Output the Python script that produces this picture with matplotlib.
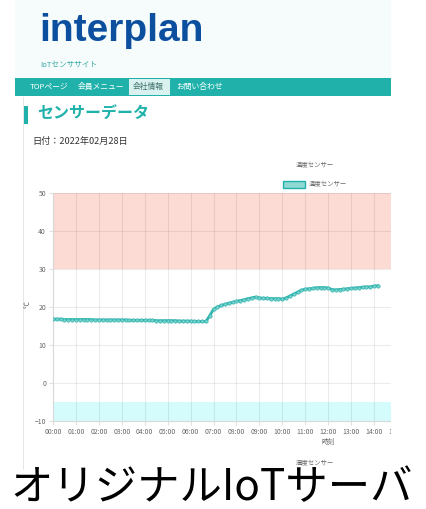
import pandas as pd
import matplotlib.pyplot as plt
import matplotlib.dates as mdates
from matplotlib.patches import Rectangle

plt.rcParams['font.family'] = ['Noto Sans CJK JP', 'DejaVu Sans']

W, H = 426, 509

# temperature readings every 10 minutes, 2022-02-28 00:00 - 14:10
temps = [
    16.8, 16.8, 16.8, 16.7, 16.7, 16.7,
    16.7, 16.7, 16.7, 16.7, 16.7, 16.6,
    16.6, 16.6, 16.6, 16.6, 16.6, 16.6,
    16.6, 16.6, 16.5, 16.5, 16.5, 16.5,
    16.5, 16.5, 16.5, 16.4, 16.4, 16.4,
    16.4, 16.4, 16.4, 16.3, 16.3, 16.3,
    16.3, 16.2, 16.2, 16.2, 16.2, 17.7,
    19.4, 20.0, 20.4, 20.7, 21.0, 21.2,
    21.5, 21.7, 21.9, 22.2, 22.4, 22.6,
    22.4, 22.3, 22.3, 22.2, 22.2, 22.2,
    22.1, 22.4, 22.9, 23.4, 23.9, 24.4,
    24.7, 24.8, 24.9, 25.1, 25.1, 25.1,
    25.0, 24.6, 24.5, 24.6, 24.7, 24.8,
    24.9, 25.0, 25.1, 25.2, 25.3, 25.3,
    25.5, 25.6,
]
times = pd.date_range('2022-02-28 00:00', periods=len(temps), freq='10min')
hour_ticks = pd.date_range('2022-02-28 00:00', periods=16, freq='h')

nav_items = ['TOPページ', '会員メニュー', '会社情報', 'お問い合わせ']
nav_x = [30, 78, 133, 176]
y_ticks = [-10, 0, 10, 20, 30, 40, 50]
warn_high = (30, 50)
warn_low = (-10, -5)

teal = '#20b2aa'


def fx(x):
    return x / W


def fy(y):
    return 1 - y / H


def rect(fig, x0, y0, x1, y1, color, z=0, **kw):
    fig.patches.append(Rectangle((fx(x0), fy(y1)), fx(x1) - fx(x0), fy(y0) - fy(y1),
                                 transform=fig.transFigure, facecolor=color,
                                 zorder=z, **kw))


fig = plt.figure(figsize=(W / 100, H / 100), dpi=100)

# page header
rect(fig, 15, 0, 391, 78, '#f5fcfb', z=-1, linewidth=0)
fig.text(fx(39), fy(31), 'interplan', family='Liberation Sans', weight='bold',
         fontsize=28, color='#0c4f9e', va='center', ha='left')
fig.text(fx(40), fy(65), 'IoTセンササイト', fontsize=5.5, color='#3aaaa5', va='center')

# nav bar
rect(fig, 15, 78, 391, 96, teal, z=-1, linewidth=0)
rect(fig, 129, 79, 170, 95, '#d9f2ef', z=-0.5, linewidth=0)
for lbl, x in zip(nav_items, nav_x):
    c = '#3d6e6b' if lbl == '会社情報' else 'white'
    fig.text(fx(x), fy(87), lbl, fontsize=5.6, color=c, va='center')

# content frame
rect(fig, 22.5, 97, 23.5, 470, '#e6e6e6', z=-1, linewidth=0)
rect(fig, 24, 106, 28, 124, teal, z=-1, linewidth=0)
fig.text(fx(37), fy(114), 'センサーデータ', fontsize=11.5, weight='bold', color=teal, va='center')
fig.text(fx(32), fy(141), '日付：2022年02月28日', fontsize=6.6, color='#333333', va='center')

# chart title and legend
fig.text(fx(315), fy(165.5), '温度センサー', fontsize=4.6, color='#666666', ha='center', va='center')
rect(fig, 283, 181, 305, 188, '#8fd8d4', z=1, edgecolor=teal, linewidth=1)
fig.text(fx(309), fy(184.5), '温度センサー', fontsize=4.6, color='#666666', va='center')

# chart
ax = fig.add_axes([fx(53), fy(421), 1 - fx(53), fy(193) - fy(421)])
ax.axhspan(*warn_high, color='#fddbd5', linewidth=0, zorder=1)
ax.axhspan(*warn_low, color='#d5fcfc', linewidth=0, zorder=1)
ax.set_axisbelow('line')
ax.grid(True, color='black', alpha=0.08, linewidth=0.8)
ax.plot(times, temps, color='#31b4ae', linewidth=2, marker='o', markersize=2.4,
        markerfacecolor='#78d2ce', markeredgecolor='#31b4ae', markeredgewidth=0.5, zorder=3)

ax.set_ylim(-10, 50)
ax.set_yticks(y_ticks)
t0 = times[0]
ax.set_xlim(t0, t0 + pd.Timedelta(hours=(W - 53) / 22.93))
ax.set_xticks(hour_ticks)
ax.xaxis.set_major_formatter(mdates.DateFormatter('%H:%M'))
ax.tick_params(labelsize=4.9, colors='#e0e0e0', labelcolor='#666666', length=3, width=0.8, pad=2)
for s in ['top', 'right']:
    ax.spines[s].set_visible(False)
for s in ['left', 'bottom']:
    ax.spines[s].set_color('#d8d8d8')
    ax.spines[s].set_linewidth(0.8)

fig.text(fx(28), fy(305), '℃', fontsize=5, color='#666666', rotation=90, ha='center', va='center')
fig.text(fx(328), fy(442), '時刻', fontsize=4.8, color='#666666', ha='center', va='center')
fig.text(fx(315), fy(463), '湿度センサー', fontsize=4.6, color='#666666', ha='center', va='center')

# page container clip on the right
rect(fig, 391, 0, W, 470, 'white', z=10, linewidth=0)

fig.text(fx(212), fy(488), 'オリジナルIoTサーバ', fontsize=30.5, color='black',
         ha='center', va='center', zorder=11)

fig.savefig('out.png', dpi=100)
